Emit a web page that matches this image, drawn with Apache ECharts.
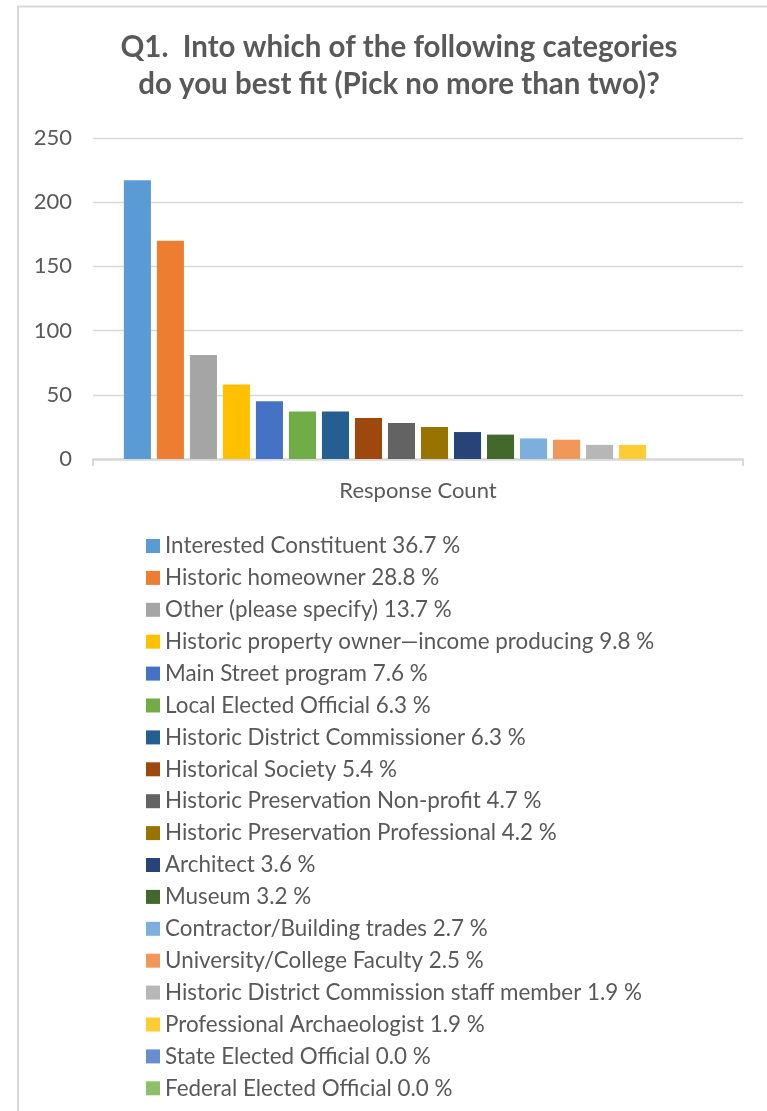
<!DOCTYPE html>
<html>
<head>
<meta charset="utf-8">
<script src="https://cdn.jsdelivr.net/npm/echarts@6/dist/echarts.min.js"></script>
<style>
  html, body { margin: 0; padding: 0; background: #ffffff; }
  #chart { width: 767px; height: 1111px; }
</style>
</head>
<body>
<div id="chart"></div>
<script>
// Survey answers to Q1: respondent groups, their counts and share of respondents
const categories = ['Response Count'];
const groups = [
  'Interested Constituent',
  'Historic homeowner',
  'Other (please specify)',
  'Historic property owner\u2014income producing',
  'Main Street program',
  'Local Elected Official',
  'Historic District Commissioner',
  'Historical Society',
  'Historic Preservation Non-profit',
  'Historic Preservation Professional',
  'Architect',
  'Museum',
  'Contractor/Building trades',
  'University/College Faculty',
  'Historic District Commission staff member',
  'Professional Archaeologist',
  'State Elected Official',
  'Federal Elected Official'
];
const counts = [217, 170, 81, 58, 45, 37, 37, 32, 28, 25, 21, 19, 16, 15, 11, 11, 0, 0];
const percents = ['36.7', '28.8', '13.7', '9.8', '7.6', '6.3', '6.3', '5.4', '4.7', '4.2', '3.6', '3.2', '2.7', '2.5', '1.9', '1.9', '0.0', '0.0'];
const yTicks = [0, 50, 100, 150, 200, 250];
const colors = [
  '#5B9BD5', '#ED7D31', '#A5A5A5', '#FFC000', '#4472C4', '#70AD47',
  '#255E91', '#9E480E', '#636363', '#997300', '#264478', '#43682B',
  '#7CAFDD', '#F1975A', '#B7B7B7', '#FFCD33', '#698ED0', '#8CC168'
];

const FONT = 'Lato, "Open Sans", sans-serif';
const TEXT = '#595959';
const LINE = '#D9D9D9';

const pctByName = {};
groups.forEach((g, i) => { pctByName[g] = percents[i]; });

const chart = echarts.init(document.getElementById('chart'), null, { renderer: 'canvas' });

chart.setOption({
  animation: false,
  color: colors,
  textStyle: { fontFamily: FONT },
  title: {
    text: 'Q1.  Into which of the following categories\ndo you best fit (Pick no more than two)?',
    left: 394,
    textAlign: 'center',
    top: 24,
    textStyle: {
      fontFamily: FONT,
      fontSize: 29.5,
      fontWeight: 'bold',
      color: TEXT,
      lineHeight: 37
    }
  },
  graphic: [{
    type: 'rect',
    shape: { x: 18, y: 6.5, width: 800, height: 1200 },
    style: { fill: 'none', stroke: LINE, lineWidth: 2 },
    silent: true,
    z: -1
  }],
  grid: { left: 93, right: 24, top: 138, bottom: 652, containLabel: false },
  xAxis: {
    type: 'category',
    data: categories,
    axisLine: { show: true, lineStyle: { color: LINE, width: 2.5 } },
    axisTick: { show: true, length: 7, lineStyle: { color: LINE, width: 2 } },
    axisLabel: { color: TEXT, fontSize: 22, fontFamily: FONT, margin: 21 }
  },
  yAxis: {
    type: 'value',
    min: yTicks[0],
    max: yTicks[yTicks.length - 1],
    interval: yTicks[1] - yTicks[0],
    axisLine: { show: false },
    axisTick: { show: false },
    axisLabel: { color: TEXT, fontSize: 22, fontFamily: FONT, margin: 21 },
    splitLine: { lineStyle: { color: LINE, width: 1.3 } }
  },
  legend: {
    orient: 'vertical',
    left: 146,
    top: 535,
    padding: 0,
    itemWidth: 14,
    itemHeight: 14,
    itemGap: 9.9,
    icon: 'rect',
    data: groups,
    formatter: name => name + ' ' + pctByName[name] + ' %',
    textStyle: { color: TEXT, fontSize: 22.4, fontFamily: FONT, lineHeight: 22 }
  },
  series: groups.map((g, i) => ({
    name: g,
    type: 'bar',
    data: [counts[i]],
    barGap: '22%',
    barCategoryGap: '9.5%',
    itemStyle: { color: colors[i] }
  }))
});
</script>
</body>
</html>
